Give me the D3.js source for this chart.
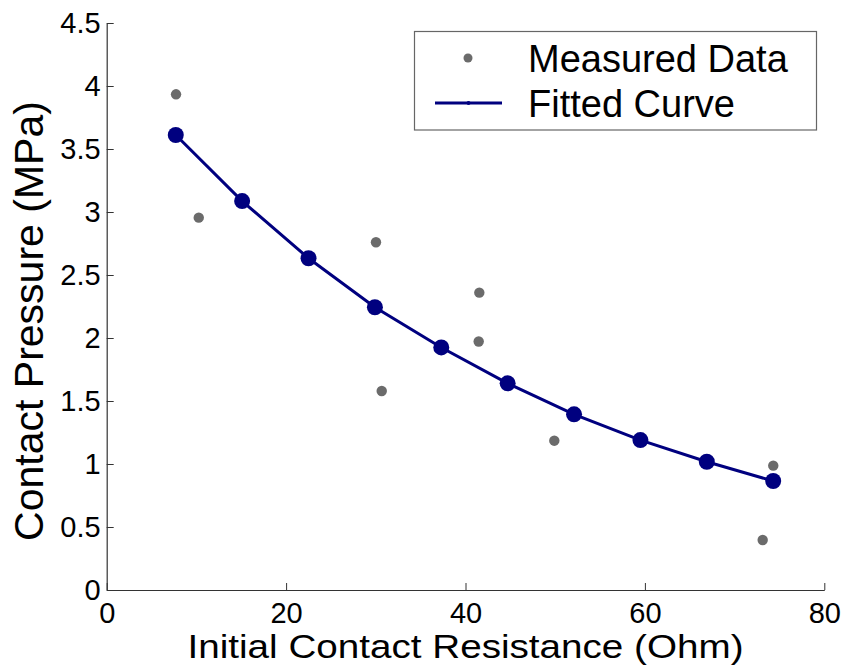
<!DOCTYPE html>
<html><head><meta charset="utf-8">
<script src="https://cdn.jsdelivr.net/npm/d3@7"></script>
<style>
html,body{margin:0;padding:0;background:#fff;}
text{font-family:"Liberation Sans",Arial,Helvetica,sans-serif;fill:#000;}
</style></head>
<body><svg id="chart" width="843" height="667"></svg>
<script>
// Data
const measuredX = [7.73, 10.26, 30.02, 30.66, 41.54, 41.47, 49.9, 74.31, 73.13];
const measuredY = [3.934, 2.955, 2.760, 1.579, 2.360, 1.972, 1.185, 0.987, 0.397];
const fittedX = [7.7, 15.1, 22.5, 29.9, 37.3, 44.7, 52.1, 59.5, 66.9, 74.3];
const fittedY = [3.611, 3.087, 2.633, 2.244, 1.925, 1.640, 1.394, 1.190, 1.018, 0.865];
const xTicks = [0, 20, 40, 60, 80];
const yTicks = [0, 0.5, 1, 1.5, 2, 2.5, 3, 3.5, 4, 4.5];
const xTitle = "Initial Contact Resistance (Ohm)";
const yTitle = "Contact Pressure (MPa)";
const legendLabels = ["Measured Data", "Fitted Curve"];

const svg = d3.select("#chart");
const L = 106.7, R = 824.3, T = 23, B = 590;
const x = d3.scaleLinear().domain([0, 80]).range([L, R]);
const y = d3.scaleLinear().domain([0, 4.5]).range([B, T]);
const axisColor = "#333";

// X axis
const gx = svg.append("g").attr("transform", `translate(0,${B})`)
  .call(d3.axisBottom(x).tickValues(xTicks).tickSizeInner(-7).tickSizeOuter(0).tickPadding(14).tickFormat(d3.format("d")));
gx.select(".domain").attr("stroke", axisColor).attr("stroke-width", 1.2);
gx.selectAll(".tick line").attr("stroke", axisColor);
gx.selectAll(".tick text").attr("font-size", 29).attr("font-family", "Liberation Sans, Arial, sans-serif").attr("fill", "#000").attr("dy", "0.71em").attr("y", 12);

// Y axis
const gy = svg.append("g").attr("transform", `translate(${L},0)`)
  .call(d3.axisLeft(y).tickValues(yTicks).tickSizeInner(-7).tickSizeOuter(0).tickPadding(8).tickFormat(d => String(d)));
gy.select(".domain").attr("stroke", axisColor).attr("stroke-width", 1.2);
gy.selectAll(".tick line").attr("stroke", axisColor);
gy.selectAll(".tick text").attr("font-size", 29).attr("font-family", "Liberation Sans, Arial, sans-serif").attr("fill", "#000").attr("x", -6);

// Titles
svg.append("text").attr("x", (L + R) / 2).attr("y", 658).attr("text-anchor", "middle")
  .attr("font-size", 34).attr("textLength", 556).attr("lengthAdjust", "spacingAndGlyphs").text(xTitle);
svg.append("text").attr("transform", `translate(43,321) rotate(-90)`).attr("text-anchor", "middle")
  .attr("font-size", 41).text(yTitle);

// Measured points
const measured = measuredX.map((v, i) => ({x: v, y: measuredY[i]}));
svg.append("g").selectAll("circle").data(measured).join("circle")
  .attr("cx", d => x(d.x)).attr("cy", d => y(d.y)).attr("r", 5.2).attr("fill", "#6b6b6b");

// Fitted curve
const fitted = fittedX.map((v, i) => ({x: v, y: fittedY[i]}));
svg.append("path").datum(fitted).attr("fill", "none").attr("stroke", "#00007f").attr("stroke-width", 3)
  .attr("d", d3.line().x(d => x(d.x)).y(d => y(d.y)));
svg.append("g").selectAll("circle").data(fitted).join("circle")
  .attr("cx", d => x(d.x)).attr("cy", d => y(d.y)).attr("r", 8).attr("fill", "#00007f");

// Legend
const lg = svg.append("g");
lg.append("rect").attr("x", 414.5).attr("y", 31.5).attr("width", 402).attr("height", 98.5)
  .attr("fill", "#fff").attr("stroke", "#666").attr("stroke-width", 1.2);
lg.append("circle").attr("cx", 468).attr("cy", 58).attr("r", 4.5).attr("fill", "#6b6b6b");
lg.append("line").attr("x1", 435).attr("x2", 502).attr("y1", 103).attr("y2", 103).attr("stroke", "#00007f").attr("stroke-width", 3);
lg.append("circle").attr("cx", 468.5).attr("cy", 103).attr("r", 2).attr("fill", "#00007f");
lg.selectAll("text.lab").data(legendLabels).join("text").attr("class", "lab")
  .attr("x", 528).attr("y", (d, i) => 58 + i * 45).attr("dy", "0.36em")
  .attr("font-size", 38).text(d => d);
</script>
</body></html>
